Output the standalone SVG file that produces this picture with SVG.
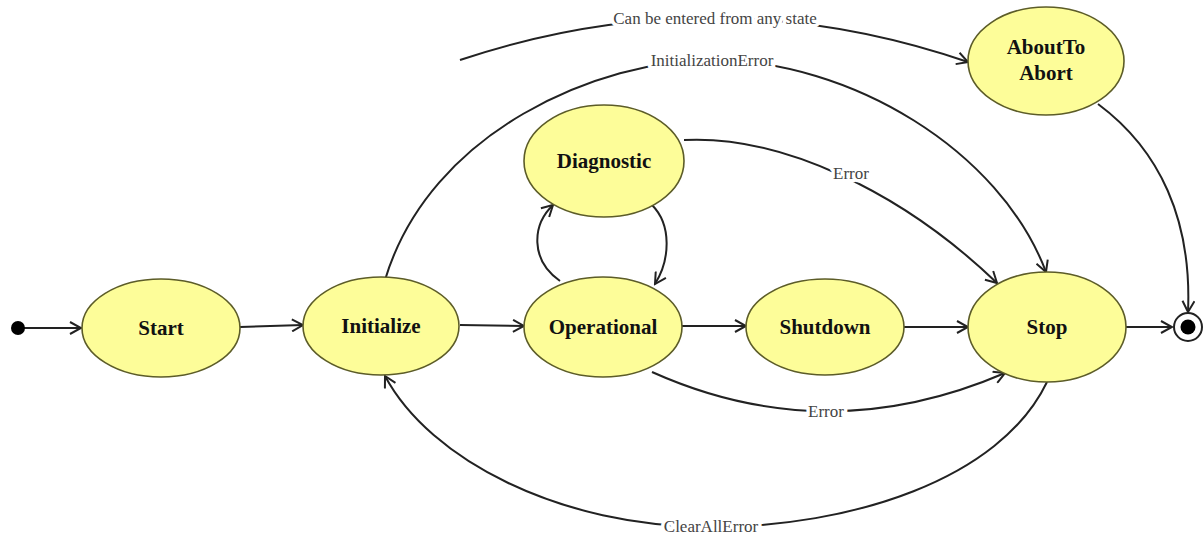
<svg xmlns="http://www.w3.org/2000/svg" width="1204" height="538" viewBox="0 0 1204 538">
<style>
.st ellipse{fill:#fdfd99;stroke:#5c5c28;stroke-width:1.6}
.st text{font-family:"Liberation Serif",serif;font-weight:bold;font-size:21px;fill:#111;text-anchor:middle}
.edges path{fill:none;stroke:#222;stroke-width:2;marker-end:url(#arr)}
.lbl{font-family:"Liberation Serif",serif;font-size:17px;fill:#444;text-anchor:middle;paint-order:stroke;stroke:#fff;stroke-width:7px;stroke-linejoin:round}
</style>
<defs>
<marker id="arr" markerUnits="userSpaceOnUse" markerWidth="14" markerHeight="14" viewBox="0 0 14 14" refX="12" refY="7" orient="auto">
<path d="M1,1 L12,7 L1,13" fill="none" stroke="#222" stroke-width="2"/>
</marker>
</defs>
<rect width="1204" height="538" fill="#fff"/>
<g class="edges">
<path d="M24,328 L81,328"/>
<path d="M240,327 L303,325"/>
<path d="M460,325 L524,326"/>
<path d="M681,326 L746,326"/>
<path d="M903,327 L968,327"/>
<path d="M1126,327 L1172,327"/>
<path d="M1098,104 C1160,150 1192,220 1188,312"/>
<path d="M460,60 Q714,-25 968,62"/>
<path d="M385,280 C430,130 600,60 712,60 C850,60 1000,150 1046,272"/>
<path d="M684,140 C780,135 900,190 997,283"/>
<path d="M560,281 C530,260 532,225 553,205"/>
<path d="M652,205 C672,225 670,260 655,284"/>
<path d="M652,372 Q826,450 1005,373"/>
<path d="M1047,382 C1000,480 850,527 711,527 C560,527 430,460 385,376"/>
</g>
<g class="lbls">
<text class="lbl" x="715" y="24">Can be entered from any state</text>
<text class="lbl" x="712" y="66">InitializationError</text>
<text class="lbl" x="851" y="179">Error</text>
<text class="lbl" x="826" y="417">Error</text>
<text class="lbl" x="711" y="532">ClearAllError</text>
</g>
<g id="initial"><circle cx="18" cy="328" r="7" fill="#000"/></g>
<g id="start" class="st"><ellipse cx="161" cy="328" rx="79" ry="49"/><text x="161" y="335">Start</text></g>
<g id="initialize" class="st"><ellipse cx="381" cy="326" rx="78" ry="49"/><text x="381" y="333">Initialize</text></g>
<g id="operational" class="st"><ellipse cx="603" cy="327" rx="79" ry="50"/><text x="603" y="334">Operational</text></g>
<g id="diagnostic" class="st"><ellipse cx="604" cy="161" rx="80" ry="56"/><text x="604" y="168">Diagnostic</text></g>
<g id="shutdown" class="st"><ellipse cx="825" cy="327" rx="79" ry="48"/><text x="825" y="334">Shutdown</text></g>
<g id="stop" class="st"><ellipse cx="1047" cy="327" rx="79" ry="55"/><text x="1047" y="334">Stop</text></g>
<g id="abouttoabort" class="st"><ellipse cx="1046" cy="61" rx="78" ry="54"/><text x="1046" y="54">AboutTo</text><text x="1046" y="80">Abort</text></g>
<g id="final"><circle cx="1188" cy="327" r="14" fill="#fff" stroke="#222" stroke-width="2"/><circle cx="1188" cy="327" r="7.5" fill="#000"/></g>
</svg>
